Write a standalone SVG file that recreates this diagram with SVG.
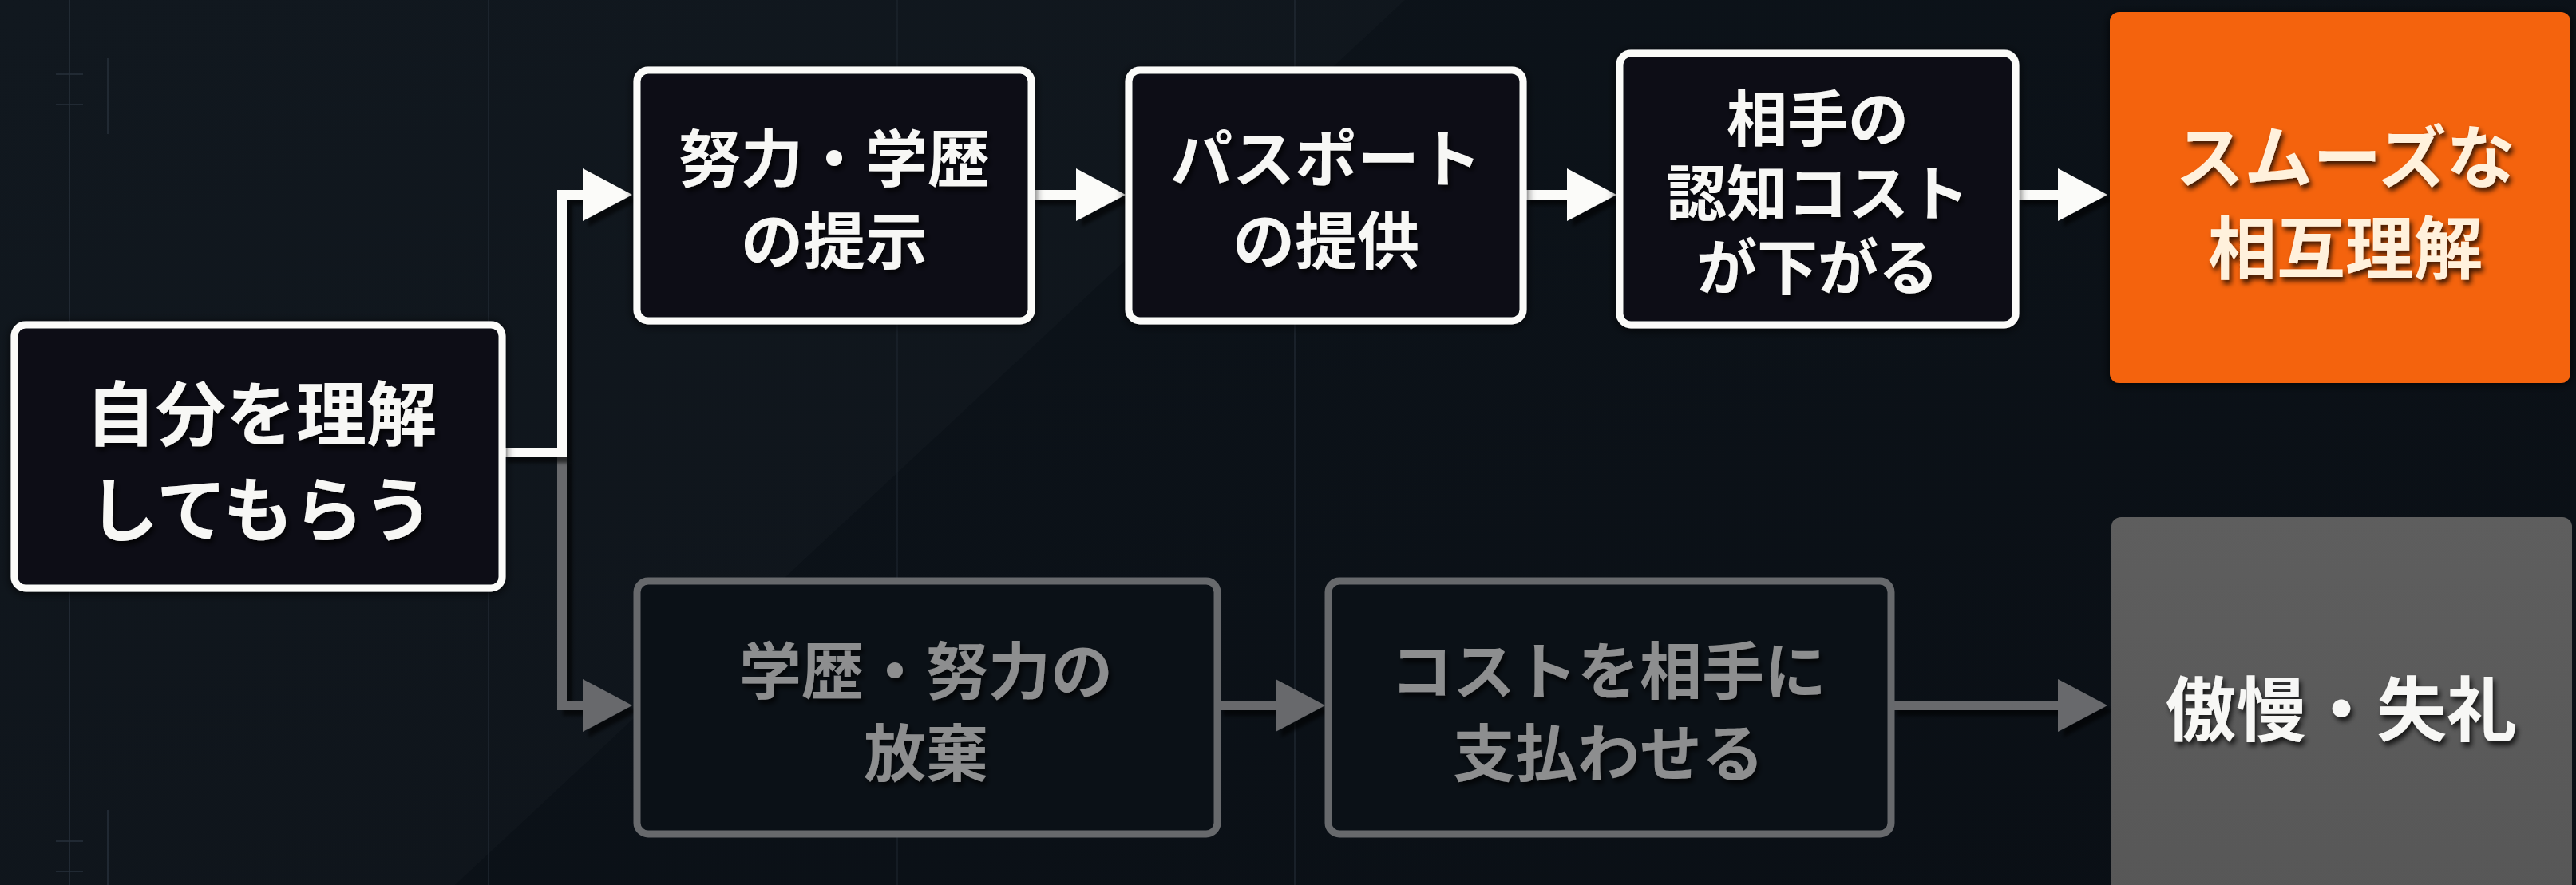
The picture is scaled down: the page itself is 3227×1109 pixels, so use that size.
<svg xmlns="http://www.w3.org/2000/svg" width="3227" height="1109" viewBox="0 0 3227 1109">
  <defs>
    <style>
      .t { font-family: "Noto Sans CJK JP", "Noto Sans", sans-serif; font-weight: 700; text-anchor: middle; dominant-baseline: central; }
      .tw { fill: #f7f7f5; }
      .tg { fill: #8d8e8f; }
      .to { fill: #fff1dc; }
      .box { fill: #0b1117; stroke-width: 9; }
      .bw { stroke: #fbfbf9; }
      .bg { stroke: #67696c; }
      .cw { fill: none; stroke: #fbfbf9; stroke-width: 12; stroke-linejoin: miter; }
      .cg { fill: none; stroke: #67696c; stroke-width: 12; stroke-linejoin: miter; }
      .hw { fill: #fbfbf9; }
      .hg { fill: #67696c; }
      .grid { stroke: #27313b; stroke-width: 1.5; }
    </style>
    <filter id="ts" filterUnits="userSpaceOnUse" x="0" y="0" width="3227" height="1109">
      <feDropShadow dx="3" dy="5" stdDeviation="3" flood-color="#000" flood-opacity="0.75"/>
    </filter>
    <filter id="cs" filterUnits="userSpaceOnUse" x="0" y="0" width="3227" height="1109">
      <feDropShadow dx="7" dy="7" stdDeviation="2" flood-color="#000" flood-opacity="0.6"/>
    </filter>
    <filter id="bs" filterUnits="userSpaceOnUse" x="0" y="0" width="3227" height="1109">
      <feDropShadow dx="0" dy="2" stdDeviation="6" flood-color="#000" flood-opacity="0.8"/>
    </filter>
    <linearGradient id="bgGrad" x1="0" y1="0" x2="1" y2="1">
      <stop offset="0" stop-color="#0d141b"/>
      <stop offset="1" stop-color="#0a0f15"/>
    </linearGradient>
    <linearGradient id="greyGrad" x1="0" y1="0" x2="0" y2="1">
      <stop offset="0" stop-color="#5e5e5e"/>
      <stop offset="1" stop-color="#575757"/>
    </linearGradient>
  </defs>

  <g id="background">
    <rect x="0" y="0" width="3227" height="1109" fill="url(#bgGrad)"/>
    <polygon points="0,0 1760,0 570,1109 0,1109" fill="#ffffff" opacity="0.018"/>
    <line class="grid" x1="87" y1="0" x2="87" y2="1109"/>
    <line class="grid" x1="135" y1="73" x2="135" y2="168"/>
    <line class="grid" x1="70" y1="93" x2="104" y2="93"/>
    <line class="grid" x1="70" y1="131" x2="104" y2="131"/>
    <line class="grid" x1="135" y1="1015" x2="135" y2="1109"/>
    <line class="grid" x1="70" y1="1054" x2="104" y2="1054"/>
    <line class="grid" x1="70" y1="1092" x2="104" y2="1092"/>
    <line class="grid" x1="612" y1="0" x2="612" y2="1109" opacity="0.7"/>
    <line class="grid" x1="1124" y1="0" x2="1124" y2="1109" opacity="0.5"/>
    <line class="grid" x1="1622" y1="0" x2="1622" y2="1109" opacity="0.7"/>
  </g>

  <g id="connectors">
    <g filter="url(#cs)">
      <path class="cg" d="M704,573 V884 H734"/>
      <polygon class="hg" points="730,851 792,884 730,917"/>
      <path class="cg" d="M1525,884 H1602"/>
      <polygon class="hg" points="1598,851 1660,884 1598,917"/>
      <path class="cg" d="M2369,884 H2582"/>
      <polygon class="hg" points="2578,851 2640,884 2578,917"/>
    </g>
    <g filter="url(#cs)">
      <path class="cw" d="M629,567 H704 V244 H734"/>
      <polygon class="hw" points="730,211 792,244 730,277"/>
      <path class="cw" d="M1292,244 H1352"/>
      <polygon class="hw" points="1348,211 1410,244 1348,277"/>
      <path class="cw" d="M1908,244 H1967"/>
      <polygon class="hw" points="1963,211 2025,244 1963,277"/>
      <path class="cw" d="M2525,244 H2582"/>
      <polygon class="hw" points="2578,211 2640,244 2578,277"/>
    </g>
  </g>

  <g id="node-start">
    <rect class="box bw" x="18" y="407" width="611" height="330" rx="14" filter="url(#bs)"/>
    <text class="t tw" x="327" y="512" font-size="88" filter="url(#ts)">自分を理解</text>
    <text class="t tw" x="327" y="632" font-size="88" filter="url(#ts)">してもらう</text>
  </g>

  <g id="node-effort">
    <rect class="box bw" x="798" y="88" width="494" height="314" rx="14" filter="url(#bs)"/>
    <text class="t tw" x="1045" y="194" font-size="78" filter="url(#ts)">努力・学歴</text>
    <text class="t tw" x="1045" y="297" font-size="78" filter="url(#ts)">の提示</text>
  </g>

  <g id="node-passport">
    <rect class="box bw" x="1414" y="88" width="494" height="314" rx="14" filter="url(#bs)"/>
    <text class="t tw" x="1661" y="194" font-size="78" filter="url(#ts)">パスポート</text>
    <text class="t tw" x="1661" y="297" font-size="78" filter="url(#ts)">の提供</text>
  </g>

  <g id="node-cost">
    <rect class="box bw" x="2029" y="67" width="496" height="340" rx="14" filter="url(#bs)"/>
    <text class="t tw" x="2277" y="144" font-size="76" filter="url(#ts)">相手の</text>
    <text class="t tw" x="2277" y="237" font-size="76" filter="url(#ts)">認知コスト</text>
    <text class="t tw" x="2277" y="330" font-size="76" filter="url(#ts)">が下がる</text>
  </g>

  <g id="node-smooth">
    <rect x="2643" y="15" width="577" height="465" rx="12" fill="#f4640f" filter="url(#bs)"/>
    <text class="t to" x="2938" y="191" font-size="86" filter="url(#ts)">スムーズな</text>
    <text class="t to" x="2938" y="305" font-size="86" filter="url(#ts)">相互理解</text>
  </g>

  <g id="node-abandon">
    <rect class="box bg" x="798" y="728" width="727" height="317" rx="14"/>
    <text class="t tg" x="1160" y="836" font-size="78" filter="url(#ts)">学歴・努力の</text>
    <text class="t tg" x="1160" y="939" font-size="78" filter="url(#ts)">放棄</text>
  </g>

  <g id="node-payment">
    <rect class="box bg" x="1664" y="728" width="705" height="317" rx="14"/>
    <text class="t tg" x="2015" y="836" font-size="78" filter="url(#ts)">コストを相手に</text>
    <text class="t tg" x="2015" y="939" font-size="78" filter="url(#ts)">支払わせる</text>
  </g>

  <g id="node-arrogance">
    <rect x="2645" y="648" width="577" height="490" rx="12" fill="url(#greyGrad)"/>
    <text class="t tw" x="2933" y="882" font-size="88" filter="url(#ts)">傲慢・失礼</text>
  </g>
</svg>
